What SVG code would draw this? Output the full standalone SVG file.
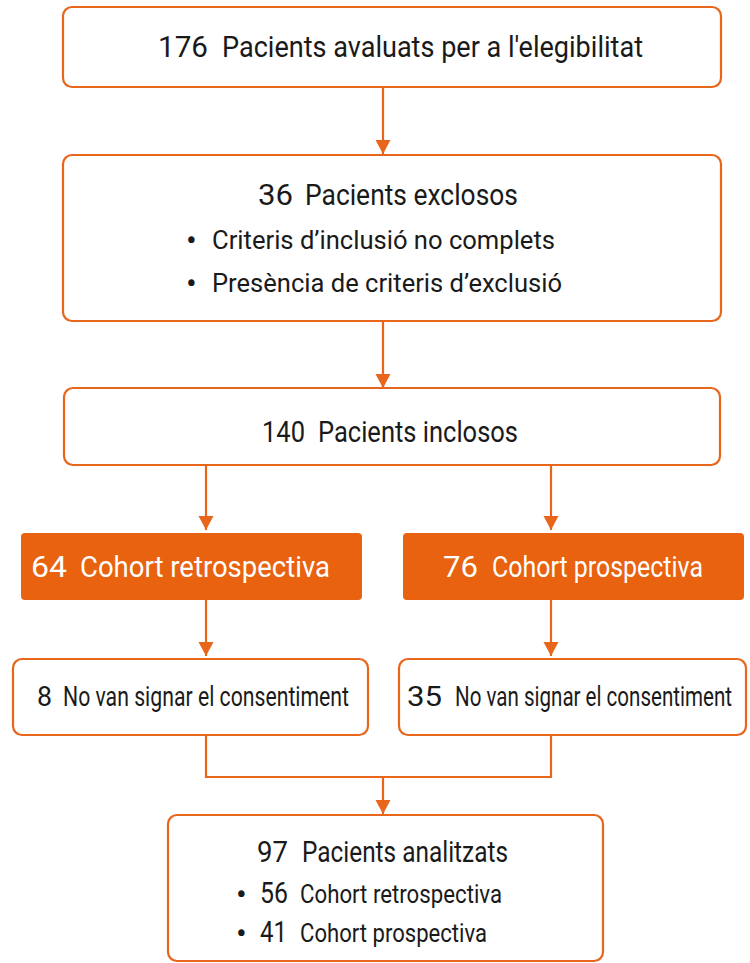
<svg xmlns="http://www.w3.org/2000/svg" width="750" height="963" viewBox="0 0 750 963">
<style>
.box{fill:#ffffff;stroke:#E8651C;stroke-width:2.2}
.obox{fill:#E8620F;stroke:none}
.t{font-family:Roboto,"Liberation Sans",sans-serif;fill:#1a1a1a;font-size:29px}
.s{font-family:Roboto,"Liberation Sans",sans-serif;fill:#1a1a1a;font-size:26px}
.b{font-family:Roboto,"Liberation Sans",sans-serif;fill:#1a1a1a;font-size:32px}
.r{font-family:Roboto,"Liberation Sans",sans-serif;fill:#1a1a1a;font-size:27px}
.w{font-family:Roboto,"Liberation Sans",sans-serif;fill:#ffffff;font-size:29px}
.c{fill:none;stroke:#E8651C;stroke-width:2.2}
</style>
<defs>
<marker id="ah" markerUnits="userSpaceOnUse" markerWidth="16" markerHeight="16" refX="14" refY="7.5" orient="auto">
<path d="M0,0 L14,7.5 L0,15 z" fill="#E8651C"/>
</marker>
</defs>
<rect width="750" height="963" fill="#ffffff"/>
<g id="connectors">
<line class="c" x1="383" y1="87" x2="383" y2="154" marker-end="url(#ah)"/>
<line class="c" x1="383" y1="321" x2="383" y2="388" marker-end="url(#ah)"/>
<line class="c" x1="206" y1="465" x2="206" y2="530" marker-end="url(#ah)"/>
<line class="c" x1="551" y1="465" x2="551" y2="530" marker-end="url(#ah)"/>
<line class="c" x1="206" y1="600" x2="206" y2="656" marker-end="url(#ah)"/>
<line class="c" x1="551" y1="600" x2="551" y2="656" marker-end="url(#ah)"/>
<polyline class="c" points="206,735 206,777 551,777 551,735"/>
<line class="c" x1="383" y1="777" x2="383" y2="814" marker-end="url(#ah)"/>
</g>
<g id="n1">
<rect class="box" x="63" y="7" width="658" height="80" rx="9"/>
<text class="t" x="158" y="57" textLength="50" lengthAdjust="spacingAndGlyphs">176</text>
<text class="t" x="222" y="57" textLength="421" lengthAdjust="spacingAndGlyphs">Pacients avaluats per a l'elegibilitat</text>
</g>
<g id="n2">
<rect class="box" x="63" y="155" width="658" height="166" rx="9"/>
<text class="t" x="258" y="205" textLength="35" lengthAdjust="spacingAndGlyphs">36</text>
<text class="t" x="305" y="205" textLength="213" lengthAdjust="spacingAndGlyphs">Pacients exclosos</text>
<text class="b" x="186" y="251">•</text>
<text class="s" x="212" y="249" textLength="343" lengthAdjust="spacingAndGlyphs">Criteris d’inclusió no complets</text>
<text class="b" x="186" y="294">•</text>
<text class="s" x="212" y="292" textLength="350" lengthAdjust="spacingAndGlyphs">Presència de criteris d’exclusió</text>
</g>
<g id="n3">
<rect class="box" x="64" y="388" width="656" height="77" rx="9"/>
<text class="t" x="262" y="442" textLength="43" lengthAdjust="spacingAndGlyphs">140</text>
<text class="t" x="318" y="442" textLength="200" lengthAdjust="spacingAndGlyphs">Pacients inclosos</text>
</g>
<g id="n4">
<rect class="obox" x="21" y="533" width="341" height="67" rx="4"/>
<text class="w" x="31" y="577" textLength="36" lengthAdjust="spacingAndGlyphs">64</text>
<text class="w" x="80" y="577" textLength="250" lengthAdjust="spacingAndGlyphs">Cohort retrospectiva</text>
</g>
<g id="n5">
<rect class="obox" x="403" y="533" width="341" height="67" rx="4"/>
<text class="w" x="443" y="577" textLength="35" lengthAdjust="spacingAndGlyphs">76</text>
<text class="w" x="492" y="577" textLength="211" lengthAdjust="spacingAndGlyphs">Cohort prospectiva</text>
</g>
<g id="n6">
<rect class="box" x="13" y="659" width="355" height="76" rx="9"/>
<text class="r" x="37" y="706" textLength="15" lengthAdjust="spacingAndGlyphs">8</text>
<text class="r" transform="translate(63,706) scale(0.78,1)" x="0" y="0" textLength="366.7" lengthAdjust="spacingAndGlyphs">No van signar el consentiment</text>
</g>
<g id="n7">
<rect class="box" x="399" y="659" width="347" height="76" rx="9"/>
<text class="r" x="407" y="706" textLength="35" lengthAdjust="spacingAndGlyphs">35</text>
<text class="r" transform="translate(455,706) scale(0.78,1)" x="0" y="0" textLength="355.1" lengthAdjust="spacingAndGlyphs">No van signar el consentiment</text>
</g>
<g id="n8">
<rect class="box" x="168" y="815" width="435" height="146" rx="9"/>
<text class="t" x="257" y="862" textLength="31" lengthAdjust="spacingAndGlyphs">97</text>
<text class="t" x="302" y="862" textLength="206" lengthAdjust="spacingAndGlyphs">Pacients analitzats</text>
<text class="b" x="236" y="905">•</text>
<text class="t" x="260" y="903" textLength="28" lengthAdjust="spacingAndGlyphs">56</text>
<text class="s" x="300" y="903" textLength="202" lengthAdjust="spacingAndGlyphs">Cohort retrospectiva</text>
<text class="b" x="236" y="944">•</text>
<text class="t" x="260" y="942" textLength="27" lengthAdjust="spacingAndGlyphs">41</text>
<text class="s" x="300" y="942" textLength="187" lengthAdjust="spacingAndGlyphs">Cohort prospectiva</text>
</g>
</svg>
